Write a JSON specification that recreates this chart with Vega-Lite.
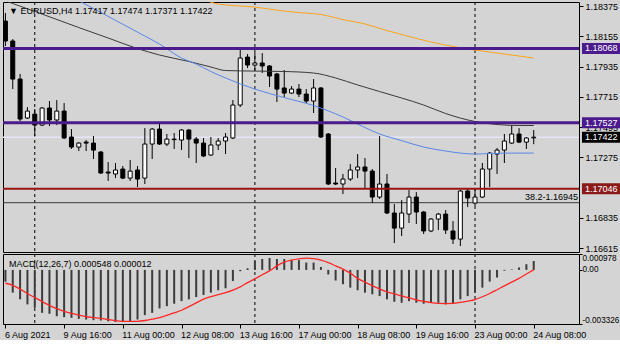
{
"$schema": "https://vega.github.io/schema/vega-lite/v6.json",
"background": "#d4d4d4",
"padding": {"left": 1, "top": 1, "right": 0, "bottom": 0},
"spacing": 2,
"bounds": "flush",
"config": {
  "font": "Liberation Sans",
  "view": {"stroke": "#000000", "strokeWidth": 1, "fill": "#d4d4d4"},
  "axis": {"labelFont": "Liberation Sans", "labelFontSize": 9, "labelColor": "#000000", "tickColor": "#000000", "tickSize": 4, "labelPadding": 2, "domain": false, "grid": false},
  "text": {"font": "Liberation Sans", "fontSize": 9}
},
"datasets": {
  "bars": [
    {"i":0,"o":1.18267,"h":1.18326,"l":1.18085,"c":1.18122,"m":-0.00072,"s":-0.00082},
    {"i":1,"o":1.18122,"h":1.18136,"l":1.17772,"c":1.17845,"m":-0.00140,"s":-0.00095},
    {"i":2,"o":1.17845,"h":1.17882,"l":1.17539,"c":1.17554,"m":-0.00181,"s":-0.00118},
    {"i":3,"o":1.17561,"h":1.17641,"l":1.17554,"c":1.17612,"m":-0.00212,"s":-0.00145},
    {"i":4,"o":1.17590,"h":1.17627,"l":1.17430,"c":1.17510,"m":-0.00233,"s":-0.00170},
    {"i":5,"o":1.17510,"h":1.17641,"l":1.17503,"c":1.17634,"m":-0.00264,"s":-0.00195},
    {"i":6,"o":1.17634,"h":1.17685,"l":1.17503,"c":1.17547,"m":-0.00270,"s":-0.00218},
    {"i":7,"o":1.17547,"h":1.17692,"l":1.17510,"c":1.17612,"m":-0.00285,"s":-0.00238},
    {"i":8,"o":1.17612,"h":1.17670,"l":1.17408,"c":1.17416,"m":-0.00291,"s":-0.00255},
    {"i":9,"o":1.17423,"h":1.17481,"l":1.17336,"c":1.17350,"m":-0.00295,"s":-0.00268},
    {"i":10,"o":1.17350,"h":1.17386,"l":1.17321,"c":1.17379,"m":-0.00301,"s":-0.00278},
    {"i":11,"o":1.17386,"h":1.17401,"l":1.17321,"c":1.17379,"m":-0.00305,"s":-0.00287},
    {"i":12,"o":1.17379,"h":1.17430,"l":1.17263,"c":1.17328,"m":-0.00309,"s":-0.00293},
    {"i":13,"o":1.17314,"h":1.17321,"l":1.17154,"c":1.17161,"m":-0.00311,"s":-0.00298},
    {"i":14,"o":1.17168,"h":1.17241,"l":1.17103,"c":1.17161,"m":-0.00316,"s":-0.00305},
    {"i":15,"o":1.17154,"h":1.17234,"l":1.17124,"c":1.17183,"m":-0.00320,"s":-0.00312},
    {"i":16,"o":1.17190,"h":1.17212,"l":1.17117,"c":1.17124,"m":-0.00320,"s":-0.00316},
    {"i":17,"o":1.17124,"h":1.17256,"l":1.17103,"c":1.17175,"m":-0.00316,"s":-0.00317},
    {"i":18,"o":1.17183,"h":1.17212,"l":1.17059,"c":1.17117,"m":-0.00305,"s":-0.00316},
    {"i":19,"o":1.17124,"h":1.17488,"l":1.17081,"c":1.17372,"m":-0.00278,"s":-0.00311},
    {"i":20,"o":1.17372,"h":1.17488,"l":1.17263,"c":1.17481,"m":-0.00264,"s":-0.00303},
    {"i":21,"o":1.17481,"h":1.17525,"l":1.17365,"c":1.17372,"m":-0.00237,"s":-0.00294},
    {"i":22,"o":1.17372,"h":1.17445,"l":1.17357,"c":1.17408,"m":-0.00223,"s":-0.00280},
    {"i":23,"o":1.17404,"h":1.17452,"l":1.17336,"c":1.17408,"m":-0.00208,"s":-0.00264},
    {"i":24,"o":1.17401,"h":1.17481,"l":1.17328,"c":1.17474,"m":-0.00192,"s":-0.00248},
    {"i":25,"o":1.17474,"h":1.17481,"l":1.17270,"c":1.17408,"m":-0.00181,"s":-0.00226},
    {"i":26,"o":1.17408,"h":1.17423,"l":1.17234,"c":1.17379,"m":-0.00167,"s":-0.00203},
    {"i":27,"o":1.17379,"h":1.17416,"l":1.17277,"c":1.17285,"m":-0.00154,"s":-0.00180},
    {"i":28,"o":1.17292,"h":1.17423,"l":1.17285,"c":1.17365,"m":-0.00140,"s":-0.00165},
    {"i":29,"o":1.17365,"h":1.17416,"l":1.17328,"c":1.17394,"m":-0.00125,"s":-0.00152},
    {"i":30,"o":1.17394,"h":1.17452,"l":1.17299,"c":1.17423,"m":-0.00113,"s":-0.00140},
    {"i":31,"o":1.17416,"h":1.17692,"l":1.17408,"c":1.17656,"m":-0.00068,"s":-0.00124},
    {"i":32,"o":1.17656,"h":1.18056,"l":1.17641,"c":1.17998,"m":-0.00008,"s":-0.00104},
    {"i":33,"o":1.18005,"h":1.18027,"l":1.17925,"c":1.17947,"m":0.00010,"s":-0.00078},
    {"i":34,"o":1.17947,"h":1.18034,"l":1.17903,"c":1.17962,"m":0.00056,"s":-0.00055},
    {"i":35,"o":1.17962,"h":1.18034,"l":1.17889,"c":1.17940,"m":0.00067,"s":-0.00030},
    {"i":36,"o":1.17940,"h":1.17947,"l":1.17787,"c":1.17867,"m":0.00073,"s":-0.00006},
    {"i":37,"o":1.17882,"h":1.17889,"l":1.17678,"c":1.17772,"m":0.00067,"s":0.00025},
    {"i":38,"o":1.17780,"h":1.17911,"l":1.17714,"c":1.17743,"m":0.00067,"s":0.00048},
    {"i":39,"o":1.17743,"h":1.17794,"l":1.17736,"c":1.17772,"m":0.00062,"s":0.00060},
    {"i":40,"o":1.17772,"h":1.17809,"l":1.17714,"c":1.17736,"m":0.00060,"s":0.00068},
    {"i":41,"o":1.17736,"h":1.17772,"l":1.17670,"c":1.17685,"m":0.00045,"s":0.00073},
    {"i":42,"o":1.17685,"h":1.17845,"l":1.17598,"c":1.17780,"m":0.00045,"s":0.00070},
    {"i":43,"o":1.17780,"h":1.17787,"l":1.17416,"c":1.17423,"m":0.00018,"s":0.00060},
    {"i":44,"o":1.17445,"h":1.17452,"l":1.17073,"c":1.17081,"m":-0.00028,"s":0.00045},
    {"i":45,"o":1.17088,"h":1.17197,"l":1.17073,"c":1.17081,"m":-0.00065,"s":0.00025},
    {"i":46,"o":1.17081,"h":1.17154,"l":1.17008,"c":1.17117,"m":-0.00088,"s":0.00005},
    {"i":47,"o":1.17117,"h":1.17226,"l":1.17103,"c":1.17183,"m":-0.00109,"s":-0.00020},
    {"i":48,"o":1.17183,"h":1.17299,"l":1.17124,"c":1.17205,"m":-0.00125,"s":-0.00052},
    {"i":49,"o":1.17205,"h":1.17270,"l":1.17052,"c":1.17175,"m":-0.00140,"s":-0.00075},
    {"i":50,"o":1.17175,"h":1.17190,"l":1.16942,"c":1.16986,"m":-0.00150,"s":-0.00097},
    {"i":51,"o":1.16986,"h":1.17430,"l":1.16972,"c":1.17081,"m":-0.00161,"s":-0.00117},
    {"i":52,"o":1.17081,"h":1.17154,"l":1.16862,"c":1.16870,"m":-0.00181,"s":-0.00135},
    {"i":53,"o":1.16870,"h":1.16935,"l":1.16651,"c":1.16760,"m":-0.00196,"s":-0.00148},
    {"i":54,"o":1.16760,"h":1.16964,"l":1.16702,"c":1.16870,"m":-0.00202,"s":-0.00160},
    {"i":55,"o":1.16862,"h":1.17037,"l":1.16797,"c":1.16986,"m":-0.00192,"s":-0.00172},
    {"i":56,"o":1.16986,"h":1.17022,"l":1.16790,"c":1.16877,"m":-0.00202,"s":-0.00185},
    {"i":57,"o":1.16877,"h":1.16884,"l":1.16717,"c":1.16739,"m":-0.00208,"s":-0.00193},
    {"i":58,"o":1.16739,"h":1.16833,"l":1.16731,"c":1.16826,"m":-0.00202,"s":-0.00201},
    {"i":59,"o":1.16826,"h":1.16870,"l":1.16746,"c":1.16862,"m":-0.00202,"s":-0.00206},
    {"i":60,"o":1.16862,"h":1.16891,"l":1.16717,"c":1.16746,"m":-0.00212,"s":-0.00207},
    {"i":61,"o":1.16739,"h":1.16811,"l":1.16644,"c":1.16680,"m":-0.00208,"s":-0.00206},
    {"i":62,"o":1.16680,"h":1.17037,"l":1.16629,"c":1.17030,"m":-0.00181,"s":-0.00200},
    {"i":63,"o":1.17030,"h":1.17044,"l":1.16913,"c":1.16979,"m":-0.00161,"s":-0.00192},
    {"i":64,"o":1.16942,"h":1.17044,"l":1.16921,"c":1.16986,"m":-0.00140,"s":-0.00182},
    {"i":65,"o":1.16986,"h":1.17234,"l":1.16979,"c":1.17190,"m":-0.00109,"s":-0.00165},
    {"i":66,"o":1.17190,"h":1.17314,"l":1.17059,"c":1.17306,"m":-0.00072,"s":-0.00145},
    {"i":67,"o":1.17299,"h":1.17343,"l":1.17154,"c":1.17328,"m":-0.00047,"s":-0.00122},
    {"i":68,"o":1.17328,"h":1.17445,"l":1.17234,"c":1.17394,"m":-0.00005,"s":-0.00098},
    {"i":69,"o":1.17379,"h":1.17510,"l":1.17372,"c":1.17445,"m":0.00003,"s":-0.00075},
    {"i":70,"o":1.17445,"h":1.17488,"l":1.17379,"c":1.17386,"m":0.00015,"s":-0.00052},
    {"i":71,"o":1.17386,"h":1.17423,"l":1.17336,"c":1.17416,"m":0.00035,"s":-0.00025},
    {"i":72,"o":1.17417,"h":1.17474,"l":1.17371,"c":1.17422,"m":0.000548,"s":0.000012}
  ],
  "ma": [
    {"ma":"o","i":27,"p":1.18425},{"ma":"o","i":29,"p":1.18391},{"ma":"o","i":34,"p":1.18369},{"ma":"o","i":38,"p":1.18340},
    {"ma":"o","i":40,"p":1.18329},{"ma":"o","i":43,"p":1.18315},{"ma":"o","i":46,"p":1.18278},{"ma":"o","i":49,"p":1.18246},
    {"ma":"o","i":52,"p":1.18198},{"ma":"o","i":55,"p":1.18155},{"ma":"o","i":58,"p":1.18115},{"ma":"o","i":61,"p":1.18082},
    {"ma":"o","i":64,"p":1.18056},{"ma":"o","i":67,"p":1.18034},{"ma":"o","i":70,"p":1.18013},{"ma":"o","i":72,"p":1.17998},
    {"ma":"k","i":0,"p":1.18414},{"ma":"k","i":1,"p":1.18395},{"ma":"k","i":5,"p":1.18318},{"ma":"k","i":10,"p":1.18220},
    {"ma":"k","i":14,"p":1.18144},{"ma":"k","i":18,"p":1.18067},{"ma":"k","i":21,"p":1.18020},{"ma":"k","i":25,"p":1.17973},
    {"ma":"k","i":28,"p":1.17933},{"ma":"k","i":30,"p":1.17907},{"ma":"k","i":34,"p":1.17903},{"ma":"k","i":38,"p":1.17900},
    {"ma":"k","i":42,"p":1.17889},{"ma":"k","i":45,"p":1.17853},{"ma":"k","i":48,"p":1.17802},{"ma":"k","i":51,"p":1.17754},
    {"ma":"k","i":54,"p":1.17707},{"ma":"k","i":57,"p":1.17656},{"ma":"k","i":60,"p":1.17594},{"ma":"k","i":62,"p":1.17561},
    {"ma":"k","i":64,"p":1.17536},{"ma":"k","i":67,"p":1.17514},{"ma":"k","i":70,"p":1.17507},{"ma":"k","i":72,"p":1.17507},
    {"ma":"b","i":10,"p":1.18415},{"ma":"b","i":13,"p":1.18330},{"ma":"b","i":16,"p":1.18244},{"ma":"b","i":19,"p":1.18158},
    {"ma":"b","i":21,"p":1.18100},{"ma":"b","i":24,"p":1.17998},{"ma":"b","i":26,"p":1.17954},{"ma":"b","i":28,"p":1.17900},
    {"ma":"b","i":30,"p":1.17853},{"ma":"b","i":34,"p":1.17772},{"ma":"b","i":38,"p":1.17710},{"ma":"b","i":42,"p":1.17652},
    {"ma":"b","i":46,"p":1.17569},{"ma":"b","i":49,"p":1.17492},{"ma":"b","i":51,"p":1.17445},{"ma":"b","i":54,"p":1.17397},
    {"ma":"b","i":57,"p":1.17350},{"ma":"b","i":60,"p":1.17321},{"ma":"b","i":62,"p":1.17306},{"ma":"b","i":64,"p":1.17299},
    {"ma":"b","i":66,"p":1.17303},{"ma":"b","i":69,"p":1.17306},{"ma":"b","i":72,"p":1.17306}
  ],
  "levels": [
    {"price":1.18068,"kind":"res","label":"1.18068"},
    {"price":1.17527,"kind":"res","label":"1.17527"},
    {"price":1.17422,"kind":"bid","label":"1.17422"},
    {"price":1.17046,"kind":"sup","label":"1.17046"}
  ],
  "fib": [{"price":1.16945,"label":"38.2-1.16945"}],
  "sep": [{"i":4},{"i":34},{"i":64}],
  "head": [{"label":"▼ EURUSD,H4  1.17417 1.17474 1.17371 1.17422"}],
  "macdhead": [{"label":"MACD(12,26,7) 0.000548 0.000012"}]
},
"vconcat": [
  {
    "width": 576, "height": 250,
    "layer": [
      {"data":{"name":"sep"},"mark":{"type":"rule","strokeDash":[3,3],"color":"#000000","strokeWidth":1},
       "encoding":{"x":{"field":"i","type":"quantitative","scale":{"domain":[-0.33,78.17],"nice":false,"zero":false,"padding":0},"axis":null}}},
      {"data":{"name":"levels"},"transform":[{"filter":"datum.kind == 'bid'"}],"mark":{"type":"rule","color":"#e6e6f6","strokeWidth":1.5},
       "encoding":{"y":{"field":"price","type":"quantitative","scale":{"domain":[1.16586,1.18406],"nice":false,"zero":false,"padding":0},
         "axis":{"orient":"right","title":null,"values":[1.18375,1.18155,1.17935,1.17715,1.17495,1.17275,1.16835,1.16615],"format":".5f"}}}},
      {"data":{"name":"fib"},"mark":{"type":"rule","color":"#3a3a3a","strokeWidth":1},
       "encoding":{"y":{"field":"price","type":"quantitative",
         "axis":{"orient":"right","title":null,"values":[1.18375,1.18155,1.17935,1.17715,1.17495,1.17275,1.16835,1.16615],"format":".5f"}}}},
      {"data":{"name":"bars"},"mark":{"type":"rule","color":"#000000","strokeWidth":1,"clip":true},
       "encoding":{"x":{"field":"i","type":"quantitative","axis":null},
         "y":{"field":"l","type":"quantitative","axis":{"orient":"right","title":null,"values":[1.18375,1.18155,1.17935,1.17715,1.17495,1.17275,1.16835,1.16615],"format":".5f"}},
         "y2":{"field":"h"}}},
      {"data":{"name":"bars"},"mark":{"type":"bar","size":4,"stroke":"#000000","strokeWidth":1,"clip":true},
       "encoding":{"x":{"field":"i","type":"quantitative","axis":null},
         "y":{"field":"o","type":"quantitative","axis":{"orient":"right","title":null,"values":[1.18375,1.18155,1.17935,1.17715,1.17495,1.17275,1.16835,1.16615],"format":".5f"}},
         "y2":{"field":"c"},
         "fill":{"condition":{"test":"datum.c >= datum.o","value":"#ffffff"},"value":"#000000"}}},
      {"data":{"name":"ma"},"transform":[{"filter":"datum.ma == 'o'"}],"mark":{"type":"line","color":"#ffa31a","strokeWidth":1,"interpolate":"monotone","clip":true},
       "encoding":{"x":{"field":"i","type":"quantitative","axis":null},
         "y":{"field":"p","type":"quantitative","axis":{"orient":"right","title":null,"values":[1.18375,1.18155,1.17935,1.17715,1.17495,1.17275,1.16835,1.16615],"format":".5f"}}}},
      {"data":{"name":"ma"},"transform":[{"filter":"datum.ma == 'k'"}],"mark":{"type":"line","color":"#3a3a3a","strokeWidth":1,"interpolate":"monotone","clip":true},
       "encoding":{"x":{"field":"i","type":"quantitative","axis":null},
         "y":{"field":"p","type":"quantitative","axis":{"orient":"right","title":null,"values":[1.18375,1.18155,1.17935,1.17715,1.17495,1.17275,1.16835,1.16615],"format":".5f"}}}},
      {"data":{"name":"ma"},"transform":[{"filter":"datum.ma == 'b'"}],"mark":{"type":"line","color":"#5a86e8","strokeWidth":1,"interpolate":"monotone","clip":true},
       "encoding":{"x":{"field":"i","type":"quantitative","axis":null},
         "y":{"field":"p","type":"quantitative","axis":{"orient":"right","title":null,"values":[1.18375,1.18155,1.17935,1.17715,1.17495,1.17275,1.16835,1.16615],"format":".5f"}}}},
      {"data":{"name":"levels"},"transform":[{"filter":"datum.kind != 'bid'"}],"mark":{"type":"rule"},
       "encoding":{"y":{"field":"price","type":"quantitative","axis":{"orient":"right","title":null,"values":[1.18375,1.18155,1.17935,1.17715,1.17495,1.17275,1.16835,1.16615],"format":".5f"}},
         "color":{"condition":{"test":"datum.kind == 'sup'","value":"#9a1414"},"value":"#4b1a8c"},
         "strokeWidth":{"condition":{"test":"datum.kind == 'sup'","value":2},"value":3}}},
      {"data":{"name":"fib"},"mark":{"type":"text","align":"right","baseline":"bottom","dy":-1,"color":"#000000","fontSize":9},
       "encoding":{"x":{"datum":78.05,"type":"quantitative","axis":null},
         "y":{"field":"price","type":"quantitative","axis":{"orient":"right","title":null,"values":[1.18375,1.18155,1.17935,1.17715,1.17495,1.17275,1.16835,1.16615],"format":".5f"}},
         "text":{"field":"label"}}},
      {"data":{"name":"head"},"mark":{"type":"text","align":"left","baseline":"middle","color":"#000000","fontSize":9},
       "encoding":{"x":{"datum":0.49,"type":"quantitative","axis":null},
         "y":{"datum":1.1834,"type":"quantitative","axis":{"orient":"right","title":null,"values":[1.18375,1.18155,1.17935,1.17715,1.17495,1.17275,1.16835,1.16615],"format":".5f"}},
         "text":{"field":"label"}}},
      {"data":{"name":"levels"},"mark":{"type":"tick","orient":"horizontal","size":40,"thickness":11,"opacity":1,"clip":false},
       "encoding":{"x":{"datum":81.3,"type":"quantitative","axis":null},
         "y":{"field":"price","type":"quantitative","axis":{"orient":"right","title":null,"values":[1.18375,1.18155,1.17935,1.17715,1.17495,1.17275,1.16835,1.16615],"format":".5f"}},
         "color":{"condition":[{"test":"datum.kind == 'sup'","value":"#8b1a1a"},{"test":"datum.kind == 'bid'","value":"#000000"}],"value":"#4b1a8c"}}},
      {"data":{"name":"levels"},"mark":{"type":"text","align":"left","baseline":"middle","color":"#ffffff","fontSize":9,"clip":false},
       "encoding":{"x":{"datum":78.98,"type":"quantitative","axis":null},
         "y":{"field":"price","type":"quantitative","axis":{"orient":"right","title":null,"values":[1.18375,1.18155,1.17935,1.17715,1.17495,1.17275,1.16835,1.16615],"format":".5f"}},
         "text":{"field":"label"}}}
    ]
  },
  {
    "width": 576, "height": 70,
    "layer": [
      {"data":{"name":"sep"},"mark":{"type":"rule","strokeDash":[3,3],"color":"#000000","strokeWidth":1},
       "encoding":{"x":{"field":"i","type":"quantitative","scale":{"domain":[-0.33,78.17],"nice":false,"zero":false,"padding":0},
         "axis":{"orient":"bottom","title":null,"values":[0,8,16,24,32,40,48,56,64,72],"labelAlign":"left","labelBaseline":"top","labelOverlap":false,"labelPadding":2,"labelOffset":-1,
              "labelExpr":"['6 Aug 2021','9 Aug 16:00','11 Aug 00:00','12 Aug 08:00','13 Aug 16:00','17 Aug 00:00','18 Aug 08:00','19 Aug 16:00','23 Aug 00:00','24 Aug 08:00'][round(datum.value/8)]"}}}},
      {"data":{"name":"bars"},"mark":{"type":"rule","color":"#3c3c3c","strokeWidth":2,"clip":true},
       "encoding":{
         "x":{"field":"i","type":"quantitative","axis":{"orient":"bottom","title":null,"values":[0,8,16,24,32,40,48,56,64,72],"labelAlign":"left","labelBaseline":"top","labelOverlap":false,"labelPadding":2,"labelOffset":-1,
              "labelExpr":"['6 Aug 2021','9 Aug 16:00','11 Aug 00:00','12 Aug 08:00','13 Aug 16:00','17 Aug 00:00','18 Aug 08:00','19 Aug 16:00','23 Aug 00:00','24 Aug 08:00'][round(datum.value/8)]"}},
         "y":{"field":"m","type":"quantitative","scale":{"domain":[-0.003326,0.000978],"nice":false,"zero":false,"padding":0},
              "axis":{"orient":"right","title":null,"values":[0.000978,0,-0.003326],"labelFlush":true,"tickSize":3,"labelPadding":0,"labelFontSize":8.2,
                      "labelExpr":"datum.value > 0.0005 ? '0.000978' : (datum.value < -0.003 ? '-0.003326' : '0.00')"}},
         "y2":{"datum":0}}},
      {"data":{"name":"bars"},"mark":{"type":"line","color":"#ff2626","strokeWidth":1.3,"interpolate":"monotone","clip":true},
       "encoding":{
         "x":{"field":"i","type":"quantitative","axis":{"orient":"bottom","title":null,"values":[0,8,16,24,32,40,48,56,64,72],"labelAlign":"left","labelBaseline":"top","labelOverlap":false,"labelPadding":2,"labelOffset":-1,
              "labelExpr":"['6 Aug 2021','9 Aug 16:00','11 Aug 00:00','12 Aug 08:00','13 Aug 16:00','17 Aug 00:00','18 Aug 08:00','19 Aug 16:00','23 Aug 00:00','24 Aug 08:00'][round(datum.value/8)]"}},
         "y":{"field":"s","type":"quantitative",
              "axis":{"orient":"right","title":null,"values":[0.000978,0,-0.003326],"labelFlush":true,"tickSize":3,"labelPadding":0,"labelFontSize":8.2,
                      "labelExpr":"datum.value > 0.0005 ? '0.000978' : (datum.value < -0.003 ? '-0.003326' : '0.00')"}}}},
      {"data":{"name":"macdhead"},"mark":{"type":"text","align":"left","baseline":"middle","color":"#000000","fontSize":9},
       "encoding":{
         "x":{"datum":0.49,"type":"quantitative","axis":{"orient":"bottom","title":null,"values":[0,8,16,24,32,40,48,56,64,72],"labelAlign":"left","labelBaseline":"top","labelOverlap":false,"labelPadding":2,"labelOffset":-1,
              "labelExpr":"['6 Aug 2021','9 Aug 16:00','11 Aug 00:00','12 Aug 08:00','13 Aug 16:00','17 Aug 00:00','18 Aug 08:00','19 Aug 16:00','23 Aug 00:00','24 Aug 08:00'][round(datum.value/8)]"}},
         "y":{"datum":0.000363,"type":"quantitative",
              "axis":{"orient":"right","title":null,"values":[0.000978,0,-0.003326],"labelFlush":true,"tickSize":3,"labelPadding":0,"labelFontSize":8.2,
                      "labelExpr":"datum.value > 0.0005 ? '0.000978' : (datum.value < -0.003 ? '-0.003326' : '0.00')"}},
         "text":{"field":"label"}}}
    ]
  }
]
}
